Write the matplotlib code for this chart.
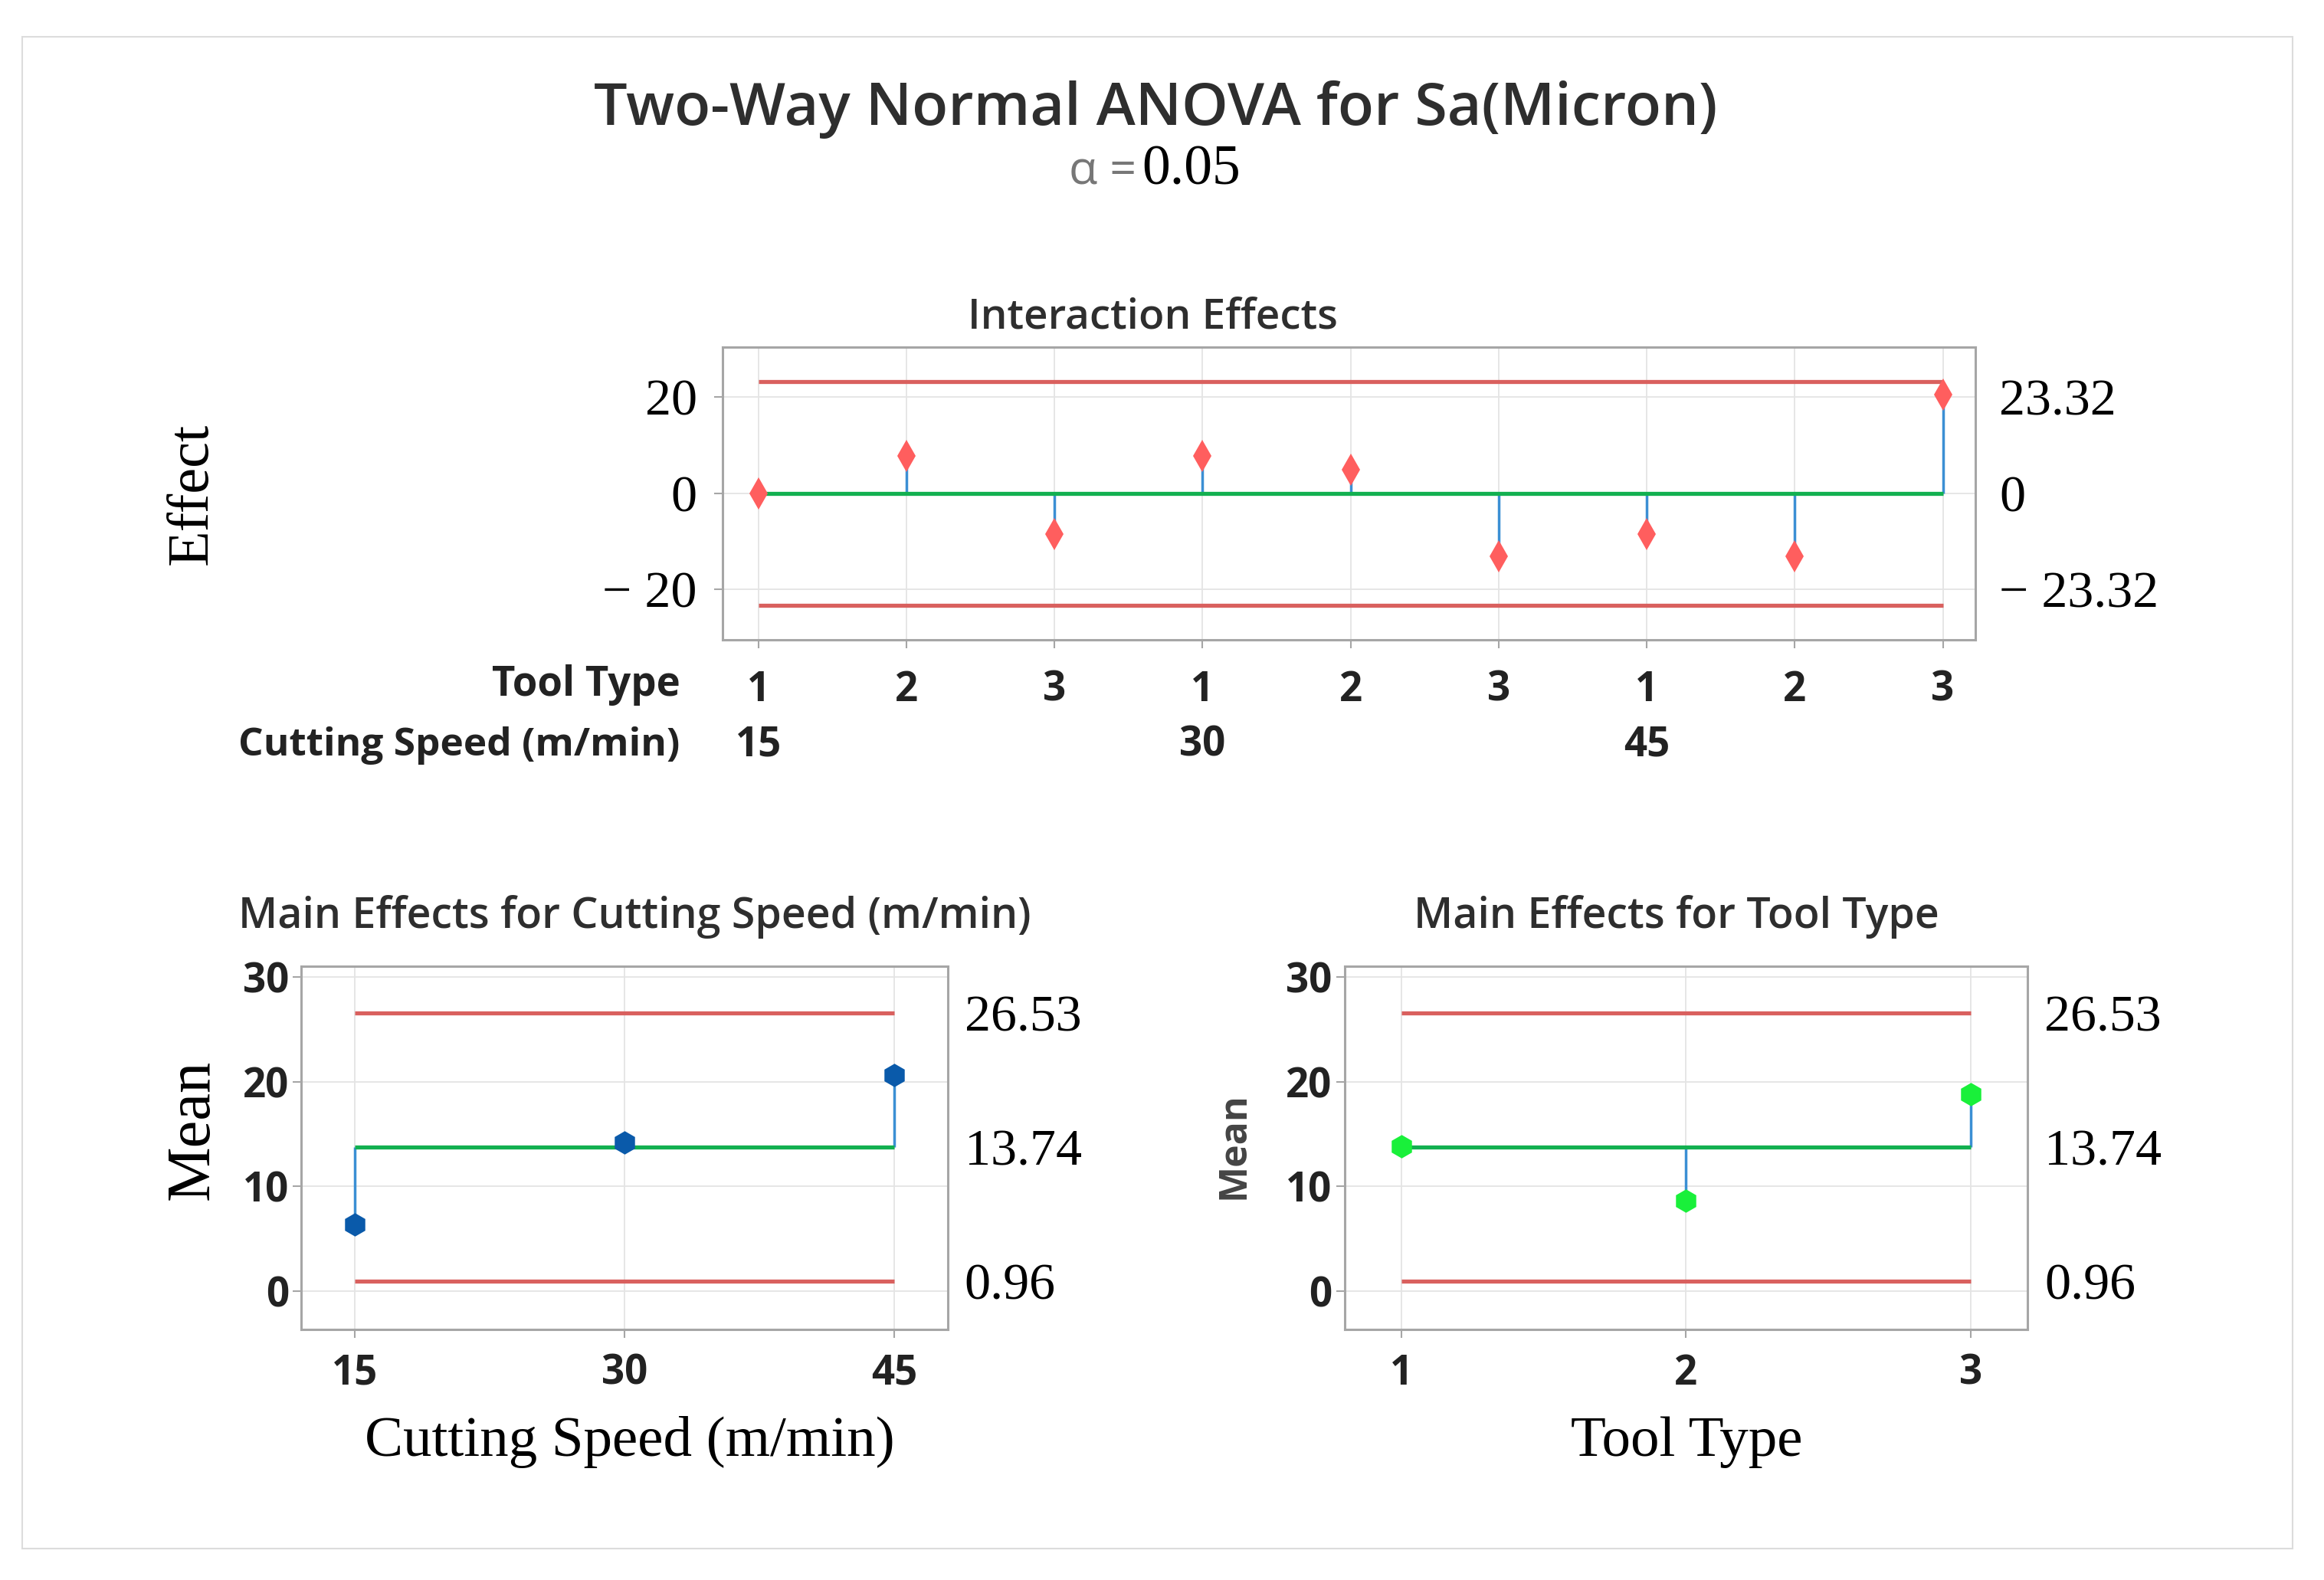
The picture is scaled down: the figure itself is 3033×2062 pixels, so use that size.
import matplotlib
matplotlib.use("Agg")
import matplotlib.pyplot as plt
import matplotlib.transforms as mtransforms
from matplotlib.patches import Rectangle

# ---------------- data ----------------
tool_types = ["1", "2", "3", "1", "2", "3", "1", "2", "3"]
speed_groups = ["15", "30", "45"]
interaction_effects = [0.0, 7.8, -8.4, 7.8, 5.0, -13.1, -8.4, -13.1, 20.6]
interaction_limit = 23.32
interaction_ticks = [-20, 0, 20]
interaction_right_labels = ["\u2212 23.32", "0", "23.32"]

speed_levels = ["15", "30", "45"]
speed_means = [6.4, 14.2, 20.6]
tool_levels = ["1", "2", "3"]
tool_means = [13.8, 8.65, 18.8]
grand_mean = 13.74
upper_limit = 26.53
lower_limit = 0.96

# ---------------- style ----------------
SANS = "Open Sans"
SERIF = "Liberation Serif"
RED_LINE = "#d9605e"
RED_PT = "#ff5e5e"
STEM = "#3b8fd4"
GREEN = "#12b050"
BLUE_PT = "#0a5aaa"
GREEN_PT = "#19f03a"
GRID = "#e4e4e4"
SPINE = "#a6a6a6"
TITLE_C = "#2e2e2e"
TITLE_W = "semibold"

W, H = 3033, 2062
fig = plt.figure(figsize=(W / 100, H / 100), dpi=100)
fig.patch.set_facecolor("white")
fig.patches.append(Rectangle((0.0096, 0.0197), 0.977, 0.957, transform=fig.transFigure,
                             fill=False, edgecolor="#dcdcdc", linewidth=1.5))


def style_axes(ax):
    for s in ax.spines.values():
        s.set_color(SPINE)
        s.set_linewidth(2.2)
    ax.grid(True, color=GRID, linewidth=1.3)
    ax.set_axisbelow(True)
    ax.tick_params(colors=SPINE, width=1.5, length=8)


fx = fig.text
fx(0.4974, 0.9306, "Two-Way Normal ANOVA for Sa(Micron)", ha="center", va="center",
   fontsize=55.5, family=SANS, fontweight=TITLE_W, color=TITLE_C)
fx(0.4890, 0.891, "α =", ha="right", va="center", fontsize=44, family=SANS, color="#777777")
fx(0.4915, 0.892, "0.05", ha="left", va="center", fontsize=53, family=SERIF, color="black")

# ---------------- interaction ----------------
ax1 = fig.add_axes([0.311, 0.595, 0.539, 0.1855])
style_axes(ax1)
pos = list(range(1, len(interaction_effects) + 1))
ax1.set_xlim(0.76, 9.22)
ax1.set_ylim(-30.5, 30.5)
ax1.hlines([interaction_limit, -interaction_limit], pos[0], pos[-1], color=RED_LINE, linewidth=3.8)
ax1.hlines(0, pos[0], pos[-1], color=GREEN, linewidth=3.8, zorder=3)
ax1.vlines(pos, 0, interaction_effects, color=STEM, linewidth=2.5, zorder=2)
ax1.plot(pos, interaction_effects, linestyle="none", marker="d", markersize=21,
         color=RED_PT, markeredgewidth=0, zorder=4)
ax1.set_yticks(interaction_ticks)
ax1.set_yticklabels(["\u2212 20", "0", "20"], family=SERIF, fontsize=49, color="black")
ax1.tick_params(axis="y", pad=16)
ax1.set_xticks(pos)
ax1.set_xticklabels(tool_types, family=SANS, fontsize=38, fontweight="bold", color="#222222")
ax1.tick_params(axis="x", pad=20)
fx(0.496, 0.799, "Interaction Effects", ha="center", va="center", family=SANS, fontsize=39.5,
   fontweight=TITLE_W, color=TITLE_C)
blend1 = mtransforms.blended_transform_factory(ax1.transData, ax1.transAxes)
for i, g in enumerate(speed_groups):
    ax1.text(pos[3 * i], -0.36, g, transform=blend1, ha="center", va="center",
             family=SANS, fontsize=38, fontweight="bold", color="#222222")
ax1.text(-0.034, -0.155, "Tool Type", transform=ax1.transAxes, ha="right", va="center",
         family=SANS, fontsize=38, fontweight="bold", color="#222222")
ax1.text(-0.034, -0.36, "Cutting Speed (m/min)", transform=ax1.transAxes, ha="right", va="center",
         family=SANS, fontsize=37, fontweight="bold", color="#222222")
blendr1 = mtransforms.blended_transform_factory(ax1.transAxes, ax1.transData)
for v, lab in zip(interaction_ticks, interaction_right_labels):
    ax1.text(1.019, v, lab, transform=blendr1, ha="left", va="center_baseline",
             family=SERIF, fontsize=49, color="black")
fx(0.083, 0.6876, "Effect", rotation=90, ha="center", va="center", family=SERIF, fontsize=55)


# ---------------- main effects ----------------
def main_effect(rect, levels, means, pt_color, title, title_x, xlabel, xlab_x, ylab_x, ylab_serif):
    ax = fig.add_axes(rect)
    style_axes(ax)
    p = list(range(1, len(levels) + 1))
    ax.set_xlim(0.8, 3.2)
    ax.set_ylim(-3.65, 31.0)
    ax.hlines([upper_limit, lower_limit], p[0], p[-1], color=RED_LINE, linewidth=3.8)
    ax.hlines(grand_mean, p[0], p[-1], color=GREEN, linewidth=3.8, zorder=3)
    ax.vlines(p, grand_mean, means, color=STEM, linewidth=2.5, zorder=2)
    ax.plot(p, means, linestyle="none", marker="h", markersize=22, color=pt_color,
            markeredgewidth=0, zorder=4)
    ax.set_yticks([0, 10, 20, 30])
    ax.set_yticklabels(["0", "10", "20", "30"], family=SANS, fontsize=38, fontweight="bold",
                       color="#222222")
    ax.set_xticks(p)
    ax.set_xticklabels(levels, family=SANS, fontsize=38, fontweight="bold", color="#222222")
    ax.tick_params(axis="x", pad=14)
    fx(title_x, 0.4195, title, ha="center", va="center", family=SANS, fontsize=40,
       fontweight=TITLE_W, color=TITLE_C)
    br = mtransforms.blended_transform_factory(ax.transAxes, ax.transData)
    for v, lab in [(upper_limit, "26.53"), (grand_mean, "13.74"), (lower_limit, "0.96")]:
        ax.text(1.025, v, lab, transform=br, ha="left", va="center_baseline", family=SERIF,
                fontsize=49, color="black")
    fx(xlab_x, 0.0872, xlabel, ha="center", va="center", family=SERIF, fontsize=54)
    if ylab_serif:
        fx(ylab_x, 0.285, "Mean", rotation=90, ha="center", va="center", family=SERIF, fontsize=58)
    else:
        fx(ylab_x, 0.275, "Mean", rotation=90, ha="center", va="center", family=SANS,
           fontsize=36, fontweight="bold", color="#444444")
    return ax


main_effect([0.1295, 0.1585, 0.2785, 0.2299], speed_levels, speed_means, BLUE_PT,
            "Main Effects for Cutting Speed (m/min)", 0.273, "Cutting Speed (m/min)", 0.271, 0.083, True)
main_effect([0.5785, 0.1585, 0.2939, 0.2299], tool_levels, tool_means, GREEN_PT,
            "Main Effects for Tool Type", 0.7213, "Tool Type", 0.7258, 0.531, False)

fig.savefig("out.png", dpi=100, facecolor="white")
